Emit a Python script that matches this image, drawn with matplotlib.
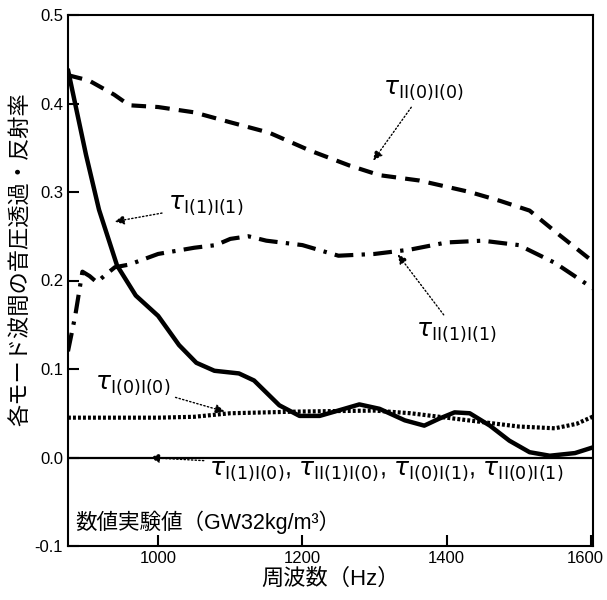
import matplotlib.pyplot as plt
import matplotlib.transforms as mtransforms
import numpy as np

plt.rcParams['font.family'] = ['Liberation Sans', 'Noto Sans CJK JP', 'DejaVu Sans']

# tau I(1)I(1), solid
freq_a = [875, 900, 918, 943, 969, 1000, 1029, 1053, 1078, 1112, 1133, 1168, 1196, 1224,
          1258, 1279, 1307, 1342, 1369, 1390, 1411, 1432, 1460, 1487, 1515, 1543, 1578, 1605]
tau_a = [0.438, 0.342, 0.28, 0.217, 0.183, 0.16, 0.127, 0.107, 0.098, 0.095, 0.087, 0.059,
         0.047, 0.047, 0.055, 0.06, 0.055, 0.042, 0.036, 0.044, 0.051, 0.05, 0.036, 0.019,
         0.006, 0.002, 0.005, 0.012]

# tau II(0)I(0), dashed
freq_b = [875, 904, 939, 960, 1000, 1050, 1099, 1154, 1210, 1265, 1307, 1362, 1432, 1474,
          1515, 1557, 1605]
tau_b = [0.432, 0.426, 0.41, 0.398, 0.396, 0.39, 0.379, 0.367, 0.347, 0.33, 0.319, 0.313,
         0.3, 0.29, 0.279, 0.251, 0.22]

# tau II(1)I(1), dash-dot
freq_c = [875, 885, 895, 905, 915, 925, 940, 960, 1000, 1050, 1080, 1100, 1125, 1150, 1200,
          1250, 1300, 1350, 1400, 1450, 1500, 1550, 1605]
tau_c = [0.12, 0.16, 0.21, 0.205, 0.198, 0.205, 0.215, 0.218, 0.23, 0.237, 0.24, 0.247,
         0.25, 0.245, 0.24, 0.228, 0.23, 0.235, 0.243, 0.245, 0.24, 0.22, 0.19]

# tau I(0)I(0), dotted
freq_d = [875, 950, 1000, 1050, 1100, 1200, 1300, 1350, 1400, 1450, 1500, 1550, 1580, 1605]
tau_d = [0.045, 0.045, 0.045, 0.046, 0.05, 0.052, 0.053, 0.05, 0.045, 0.04, 0.035, 0.033,
         0.038, 0.047]

# other modes, all zero
freq_e = [875, 1605]
tau_e = [0.0, 0.0]

xticks = [1000, 1200, 1400, 1600]
yticks = [-0.1, 0.0, 0.1, 0.2, 0.3, 0.4, 0.5]

fig = plt.figure(figsize=(6.07, 6.0), dpi=100)
ax = fig.add_axes([0.112, 0.09, 0.865, 0.885])

ax.plot(freq_a, tau_a, color='black', lw=3.2, solid_capstyle='round')
ax.plot(freq_b, tau_b, color='black', lw=3, dashes=(3.5, 2.2))
ax.plot(freq_c, tau_c, color='black', lw=3, dashes=(4.5, 2, 0.8, 2))
ax.plot(freq_d, tau_d, color='black', lw=3, dashes=(0.7, 0.5))
ax.plot(freq_e, tau_e, color='black', lw=1.6)

ax.set_xlim(875, 1603)
ax.set_ylim(-0.1, 0.5)
ax.set_xticks(xticks)
ax.set_yticks(yticks)
ax.set_yticklabels(['%.1f' % v for v in yticks])
ax.tick_params(direction='in', length=8, width=1.5, labelsize=12)
last = ax.get_xticklabels()[-1]
last.set_transform(last.get_transform() +
                   mtransforms.ScaledTranslation(-6 / 100, 0, fig.dpi_scale_trans))
for s in ax.spines.values():
    s.set_linewidth(1.5)

arrow = dict(arrowstyle='-|>', linestyle=':', color='black', lw=1, mutation_scale=14)
tfs = 18


def label(sub):
    return r'$\tau_{\mathsf{%s}}$' % sub


ax.annotate(label('II(0)I(0)'), xy=(1296, 0.333), xytext=(1312, 0.415), fontsize=tfs,
            arrowprops=arrow, va='center')
ax.annotate(label('I(1)I(1)'), xy=(936, 0.266), xytext=(1013, 0.285), fontsize=tfs,
            arrowprops=arrow, va='center')
ax.annotate(label('II(1)I(1)'), xy=(1330, 0.232), xytext=(1358, 0.142), fontsize=tfs,
            arrowprops=arrow, va='center')
ax.annotate(label('I(0)I(0)'), xy=(1096, 0.051), xytext=(912, 0.082), fontsize=tfs,
            arrowprops=arrow, va='center')
ax.annotate(label('I(1)I(0)') + ', ' + label('II(1)I(0)') + ', ' + label('I(0)I(1)') + ', '
            + label('II(0)I(1)'),
            xy=(985, 0.0), xytext=(1071, -0.015), fontsize=tfs,
            arrowprops=arrow, va='center')

ax.text(885, -0.073, '数値実験値（GW32kg/m³）', fontsize=15.5, va='center')

ax.set_xlabel('周波数（Hz）', fontsize=16, labelpad=2)
ax.set_ylabel('各モード波間の音圧透過・反射率', fontsize=16)
ax.yaxis.set_label_coords(-0.068, 0.54)

fig.savefig('out.png', dpi=100)
